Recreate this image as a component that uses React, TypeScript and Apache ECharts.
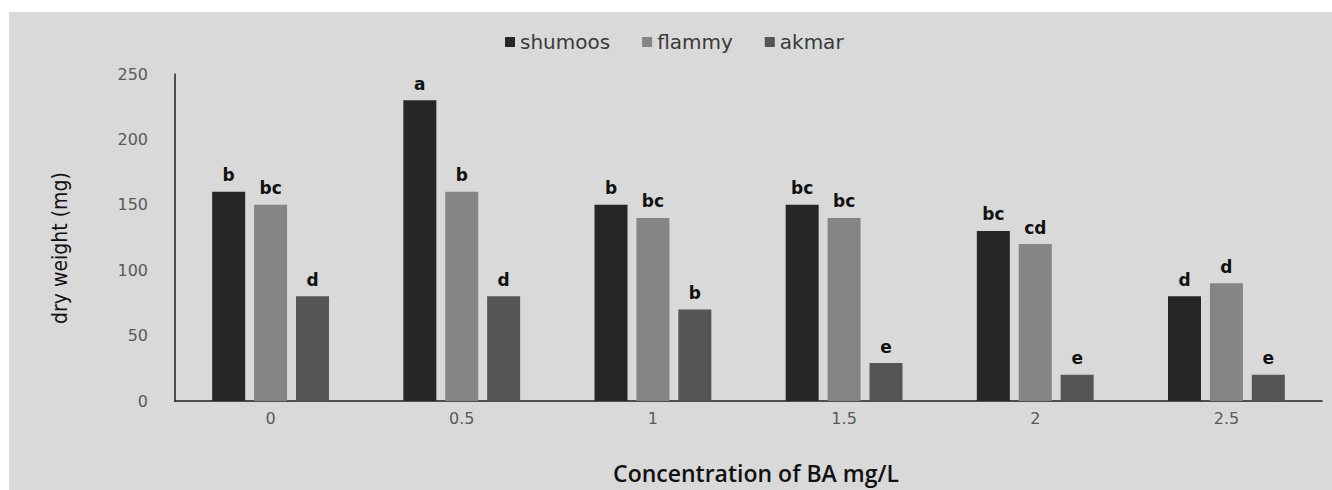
import React, { useEffect, useRef } from "react";
import * as echarts from "echarts";

// Concentration levels of BA (mg/L)
const categories = ["0", "0.5", "1", "1.5", "2", "2.5"];

// Dry weight (mg) per cultivar
const shumoos = [160, 230, 150, 150, 130, 80];
const flammy = [150, 160, 140, 140, 120, 90];
const akmar = [80, 80, 70, 29, 20, 20];

// Significance letters shown above each bar
const shumoosLetters = ["b", "a", "b", "bc", "bc", "d"];
const flammyLetters = ["bc", "b", "bc", "bc", "cd", "d"];
const akmarLetters = ["d", "d", "b", "e", "e", "e"];

const yTicks = { min: 0, max: 250, interval: 50 };

const TICK_FONT = "DejaVu Sans, Verdana, sans-serif";
const NARROW_FONT = "'Liberation Sans Narrow', 'DejaVu Sans Condensed', 'Open Sans', sans-serif";

function barSeries(name: string, values: number[], letters: string[], color: string) {
  return {
    name,
    type: "bar",
    data: values,
    barWidth: 33,
    barGap: "27%",
    itemStyle: { color },
    label: {
      show: true,
      position: "top",
      distance: 8,
      formatter: (p: any) => letters[p.dataIndex],
      color: "#111",
      fontFamily: TICK_FONT,
      fontWeight: "bold",
      fontSize: 17,
    },
  };
}

export default function App() {
  const ref = useRef<HTMLDivElement>(null);

  useEffect(() => {
    if (!ref.current) return;
    const chart = echarts.init(ref.current, null, { renderer: "svg" });
    chart.setOption({
      animation: false,
      backgroundColor: "#d9d9d9",
      legend: {
        left: 491,
        top: 15,
        icon: "rect",
        itemWidth: 10,
        itemHeight: 10,
        itemGap: 32,
        textStyle: { fontFamily: TICK_FONT, fontSize: 20, color: "#3a3a3a" },
        data: ["shumoos", "flammy", "akmar"],
      },
      grid: { left: 166, top: 62, width: 1147, height: 327, containLabel: false },
      xAxis: {
        type: "category",
        data: categories,
        axisTick: { show: false },
        axisLine: { show: true, lineStyle: { color: "#1e1e1e", width: 1.5 } },
        axisLabel: { margin: 9, fontFamily: TICK_FONT, fontSize: 16, color: "#595959" },
      },
      yAxis: {
        type: "value",
        min: yTicks.min,
        max: yTicks.max,
        interval: yTicks.interval,
        splitLine: { show: false },
        axisTick: { show: false },
        axisLine: { show: true, lineStyle: { color: "#1e1e1e", width: 1.5 } },
        axisLabel: { margin: 27, fontFamily: TICK_FONT, fontSize: 16, color: "#595959" },
      },
      graphic: [
        {
          type: "text",
          x: 747,
          y: 461,
          style: {
            text: "Concentration of BA mg/L",
            fontFamily: "'Open Sans', sans-serif",
            fontSize: 23,
            fontWeight: 600,
            fill: "#111",
            textAlign: "center",
            textVerticalAlign: "middle",
          },
        },
        {
          type: "text",
          x: 51,
          y: 236,
          rotation: Math.PI / 2,
          style: {
            text: "dry weight (mg)",
            fontFamily: NARROW_FONT,
            fontSize: 21,
            fill: "#111",
            textAlign: "center",
            textVerticalAlign: "middle",
          },
        },
      ],
      series: [
        barSeries("shumoos", shumoos, shumoosLetters, "#262626"),
        barSeries("flammy", flammy, flammyLetters, "#858585"),
        barSeries("akmar", akmar, akmarLetters, "#555555"),
      ],
    });
    return () => chart.dispose();
  }, []);

  return (
    <div style={{ position: "fixed", left: 0, top: 0, width: 1332, height: 490, background: "#fff" }}>
      <div ref={ref} style={{ position: "absolute", left: 9, top: 12, width: 1323, height: 478 }} />
    </div>
  );
}
